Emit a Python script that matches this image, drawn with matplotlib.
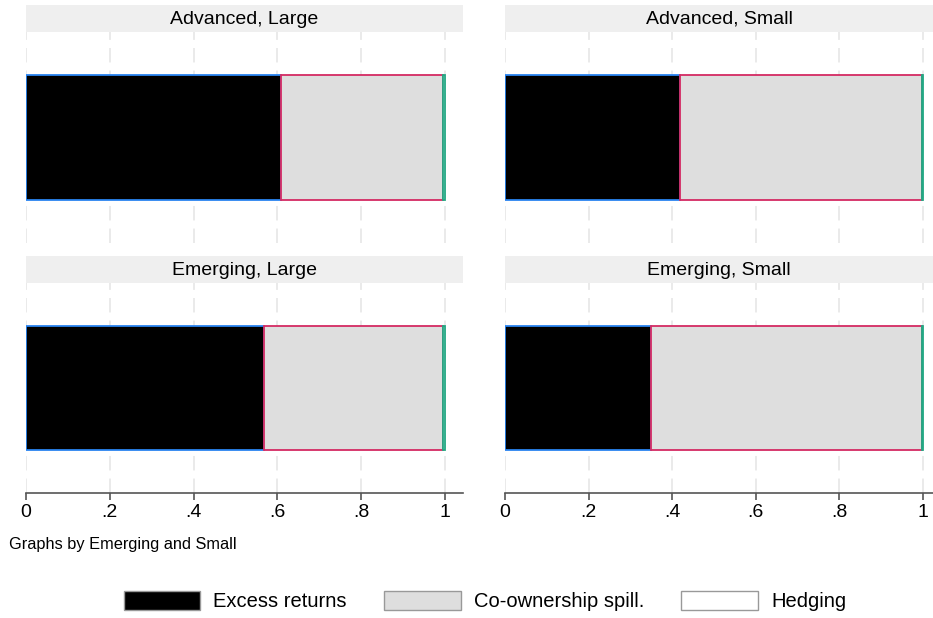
import matplotlib
matplotlib.use("Agg")
import matplotlib.pyplot as plt
from matplotlib.patches import Patch

plt.rcParams['font.family'] = ['Liberation Sans', 'DejaVu Sans']

# data: shares of each component by group
panels = ['Advanced, Large', 'Advanced, Small', 'Emerging, Large', 'Emerging, Small']
excess = [0.609, 0.419, 0.567, 0.349]
coown = [0.387, 0.579, 0.429, 0.648]
hedging = [0.004, 0.002, 0.004, 0.003]
series = ['Excess returns', 'Co-ownership spill.', 'Hedging']
ticks = [0, 0.2, 0.4, 0.6, 0.8, 1.0]
tick_labels = ['0', '.2', '.4', '.6', '.8', '1']

fills = ['black', '#dedede', 'white']
edges = ['#2a84f0', '#d42a62', '#22a884']

W, H = 933, 618
fig = plt.figure(figsize=(W / 100, H / 100), dpi=100)

# pixel boxes: (x0 at value 0, x_right, y_top, y_bottom) of plot region
boxes = [(26, 463, 32, 243), (505, 933, 32, 243),
         (26, 463, 283, 493), (505, 933, 283, 493)]
px_per_unit = [419, 418, 419, 418]

for i, name in enumerate(panels):
    x0, x1, yt, yb = boxes[i]
    ax = fig.add_axes([x0 / W, 1 - yb / H, (x1 - x0) / W, (yb - yt) / H])
    ax.set_xlim(0, (x1 - x0) / px_per_unit[i])
    ax.set_ylim(-0.5, 0.5)
    for t in ticks:
        ax.axvline(t, color='#e8e8e8', lw=1.3, ls=(0, (8, 4.5)), zorder=0)
    left = 0
    for vals, fc, ec in zip([excess, coown, hedging], fills, edges):
        ax.barh(0, vals[i], left=left, height=0.595, color=fc,
                edgecolor=ec, linewidth=1.3, zorder=2)
        left += vals[i]
    for s in ['top', 'right', 'left']:
        ax.spines[s].set_visible(False)
    ax.set_yticks([])
    if i >= 2:
        ax.spines['bottom'].set_color('#555555')
        ax.spines['bottom'].set_linewidth(1.2)
        ax.set_xticks(ticks)
        ax.set_xticklabels(tick_labels, fontsize=14)
        ax.tick_params(axis='x', length=5, width=1.2, color='#555555', pad=3)
    else:
        ax.spines['bottom'].set_visible(False)
        ax.set_xticks([])

    # strip title
    sax = fig.add_axes([x0 / W, 1 - yt / H, (x1 - x0) / W, 27 / H])
    sax.set_facecolor('#efefef')
    sax.set_xticks([])
    sax.set_yticks([])
    for s in sax.spines.values():
        s.set_visible(False)
    sax.text(0.5, 0.48, name, ha='center', va='center', fontsize=14,
             transform=sax.transAxes)

fig.text(9 / W, 1 - 545 / H, 'Graphs by Emerging and Small', fontsize=11.8,
         va='center', ha='left')

handles = [Patch(facecolor=fc, edgecolor='#999999', linewidth=1) for fc in fills]
fig.legend(handles, series, loc='center', bbox_to_anchor=(485 / W, 1 - 601 / H),
           ncol=3, frameon=False, fontsize=14.5, handlelength=3.8,
           handleheight=1.1, handletextpad=0.65, columnspacing=1.85)

fig.savefig('out.png', dpi=100, facecolor='white')
